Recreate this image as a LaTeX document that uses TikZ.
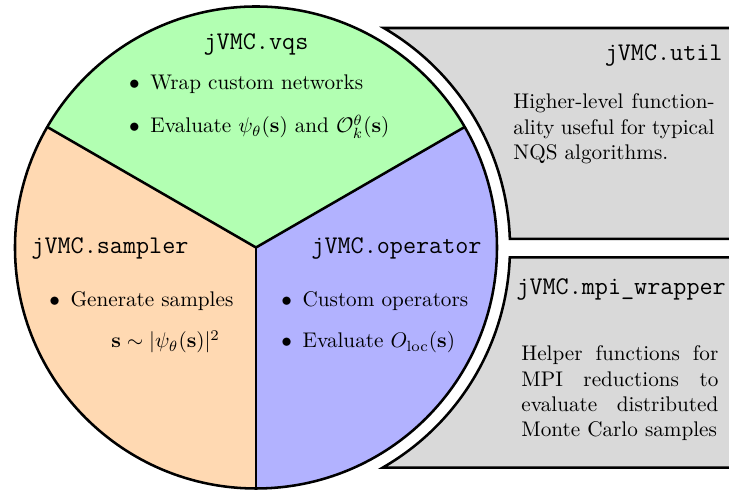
\documentclass[tikz,border=0pt]{standalone}
\usepackage{amsmath}
\begin{document}
\begin{tikzpicture}[x=0.4722pt,y=0.4722pt,
  sector/.style={very thick},
  divider/.style={very thick},
  modbox/.style={fill=gray!30,draw=black,very thick},
  title/.style={inner sep=0pt,font=\large\ttfamily},
  txt/.style={inner sep=0pt,font=\normalsize},
  para/.style={inner sep=0pt,font=\normalsize,align=justify,anchor=north west}]
\useasboundingbox (-256,-244.5) rectangle (473,247.5);
\clip (-256,-244.5) rectangle (473,247.5);
% sectors
\fill[green!30] (0,0) -- (150:241) arc (150:30:241) -- cycle;
\fill[orange!30] (0,0) -- (150:241) arc (150:270:241) -- cycle;
\fill[blue!30] (0,0) -- (270:241) arc (-90:30:241) -- cycle;
\coordinate (c) at (0,0);
\coordinate (ul) at (150:241);
\coordinate (ur) at (30:241);
\coordinate (dn) at (270:241);
\draw[divider] (c) -- (ul);
\draw[divider] (c) -- (ur);
\draw[divider] (c) -- (dn);
\draw[sector] (c) circle (241);
% boxes
\draw[modbox] (59.79:254) arc (59.79:1.96:254) -- (490,8.7) -- (490,219.5) -- cycle;
\draw[modbox] (-2.21:254) arc (-2.21:-60.1:254) -- (490,-220.2) -- (490,-9.8) -- cycle;
% vqs
\node[title,anchor=base] (vqs) at (0,197.5) {jVMC.vqs};
\node[txt,anchor=base west] (vqs1) at (-127.2,157.5) {$\bullet$\hspace{5pt}Wrap custom networks};
\node[txt,anchor=base west] (vqs2) at (-127.2,114.5) {$\bullet$\hspace{5pt}Evaluate $\psi_\theta(\mathbf{s})$ and $\mathcal{O}^\theta_k(\mathbf{s})$};
% sampler
\node[title,anchor=base west] (smp) at (-225,-6.5) {jVMC.sampler};
\node[txt,anchor=base west] (smp1) at (-207,-59.5) {$\bullet$\hspace{5pt}Generate samples};
\node[txt,anchor=base west] (smp2) at (-145,-100.5) {$\mathbf{s}\sim|\psi_\theta(\mathbf{s})|^2$};
% operator
\node[title,anchor=base west] (op) at (55,-6.5) {jVMC.operator};
\node[txt,anchor=base west] (op1) at (25,-59.5) {$\bullet$\hspace{5pt}Custom operators};
\node[txt,anchor=base west] (op2) at (25,-100.5) {$\bullet$\hspace{5pt}Evaluate $O_{\mathrm{loc}}(\mathbf{s})$};
% util
\node[title,anchor=base east] (util) at (467,186.5) {jVMC.util};
\node[para,text width=95pt] (utilp) at (257,154.2) {Higher-level function-\linebreak ality useful for typical\linebreak NQS algorithms.};
% mpi
\node[title,anchor=base west] (mpi) at (260,-47.5) {jVMC.mpi\_wrapper};
\node[para,text width=93pt] (mpip) at (265,-97.8) {Helper functions for\linebreak MPI reductions to\linebreak evaluate distributed\linebreak Monte Carlo samples};
\end{tikzpicture}
\end{document}
